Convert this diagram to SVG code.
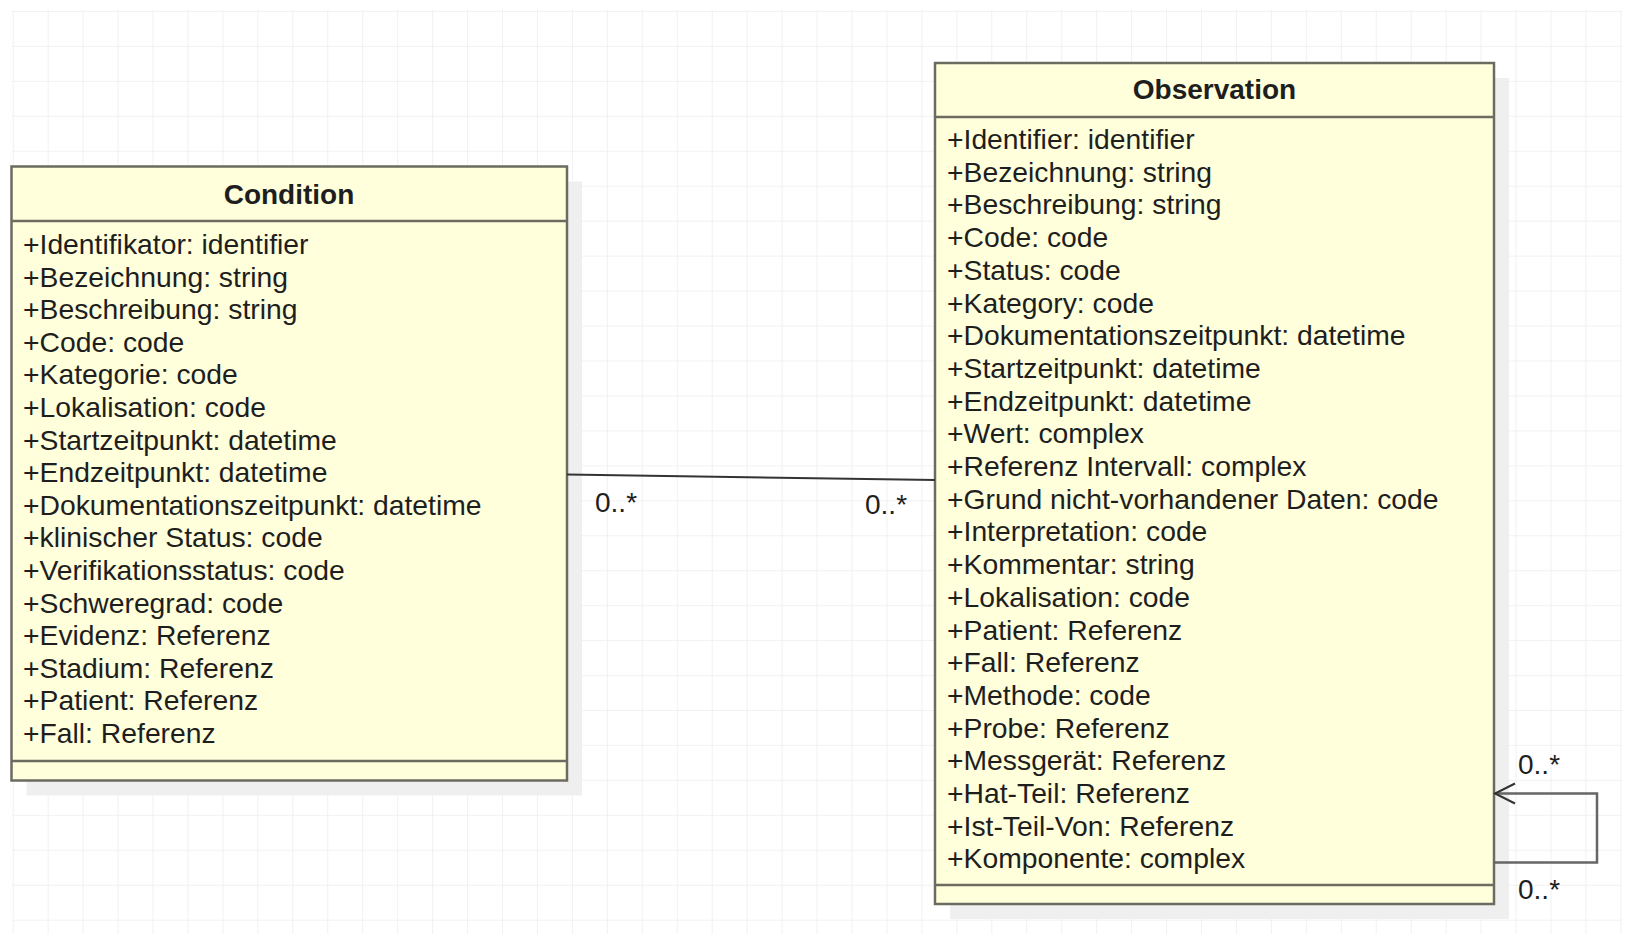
<svg xmlns="http://www.w3.org/2000/svg" width="1632" height="944" viewBox="0 0 1632 944">
<defs>
<pattern id="grid" x="12.7" y="11" width="34.95" height="34.95" patternUnits="userSpaceOnUse">
<path d="M0 0 V34.95 M0 0 H34.95" fill="none" stroke="#eeeeee" stroke-width="1.6"/>
</pattern>
<marker id="open" markerWidth="24" markerHeight="24" refX="21" refY="11" orient="auto" markerUnits="userSpaceOnUse">
<path d="M1 1 L21 11 L1 21" fill="none" stroke="#333" stroke-width="2"/>
</marker>
<style>
.box{fill:#ffffdc;stroke:#6b6b60;stroke-width:2.5}
.shadow{fill:#efefef}
.sep{stroke:#6b6b60;stroke-width:2.5}
.t{font-family:"Liberation Sans",Arial,sans-serif;font-size:28.3px;fill:#1e1e1e}
.h{font-family:"Liberation Sans",Arial,sans-serif;font-size:28px;font-weight:bold;fill:#1e1e1e;text-anchor:middle}
.lbl{font-family:"Liberation Sans",Arial,sans-serif;font-size:28px;fill:#1e1e1e}
.conn{fill:none;stroke:#333;stroke-width:2}
.loop{fill:none;stroke:#666;stroke-width:2.5}
</style>
</defs>
<rect x="12" y="10" width="1610" height="924" fill="url(#grid)"/>

<g id="condition">
<rect class="shadow" x="26.5" y="181.5" width="555.5" height="614"/>
<rect class="box" x="11.5" y="166.5" width="555.5" height="614"/>
<line class="sep" x1="11.5" y1="221" x2="567" y2="221"/>
<line class="sep" x1="11.5" y1="761" x2="567" y2="761"/>
<text class="h" x="289" y="204">Condition</text>
<text class="t" x="23" y="254">+Identifikator: identifier</text>
<text class="t" x="23" y="286.6">+Bezeichnung: string</text>
<text class="t" x="23" y="319.2">+Beschreibung: string</text>
<text class="t" x="23" y="351.8">+Code: code</text>
<text class="t" x="23" y="384.4">+Kategorie: code</text>
<text class="t" x="23" y="417">+Lokalisation: code</text>
<text class="t" x="23" y="449.6">+Startzeitpunkt: datetime</text>
<text class="t" x="23" y="482.2">+Endzeitpunkt: datetime</text>
<text class="t" x="23" y="514.8">+Dokumentationszeitpunkt: datetime</text>
<text class="t" x="23" y="547.4">+klinischer Status: code</text>
<text class="t" x="23" y="580">+Verifikationsstatus: code</text>
<text class="t" x="23" y="612.6">+Schweregrad: code</text>
<text class="t" x="23" y="645.2">+Evidenz: Referenz</text>
<text class="t" x="23" y="677.8">+Stadium: Referenz</text>
<text class="t" x="23" y="710.4">+Patient: Referenz</text>
<text class="t" x="23" y="743">+Fall: Referenz</text>
</g>

<g id="observation">
<rect class="shadow" x="950" y="78" width="559" height="841"/>
<rect class="box" x="935" y="63" width="559" height="841"/>
<line class="sep" x1="935" y1="117" x2="1494" y2="117"/>
<line class="sep" x1="935" y1="885" x2="1494" y2="885"/>
<text class="h" x="1214.5" y="99">Observation</text>
<text class="t" x="947" y="149">+Identifier: identifier</text>
<text class="t" x="947" y="181.7">+Bezeichnung: string</text>
<text class="t" x="947" y="214.4">+Beschreibung: string</text>
<text class="t" x="947" y="247.1">+Code: code</text>
<text class="t" x="947" y="279.8">+Status: code</text>
<text class="t" x="947" y="312.5">+Kategory: code</text>
<text class="t" x="947" y="345.2">+Dokumentationszeitpunkt: datetime</text>
<text class="t" x="947" y="377.9">+Startzeitpunkt: datetime</text>
<text class="t" x="947" y="410.6">+Endzeitpunkt: datetime</text>
<text class="t" x="947" y="443.3">+Wert: complex</text>
<text class="t" x="947" y="476">+Referenz Intervall: complex</text>
<text class="t" x="947" y="508.7">+Grund nicht-vorhandener Daten: code</text>
<text class="t" x="947" y="541.4">+Interpretation: code</text>
<text class="t" x="947" y="574.1">+Kommentar: string</text>
<text class="t" x="947" y="606.8">+Lokalisation: code</text>
<text class="t" x="947" y="639.5">+Patient: Referenz</text>
<text class="t" x="947" y="672.2">+Fall: Referenz</text>
<text class="t" x="947" y="704.9">+Methode: code</text>
<text class="t" x="947" y="737.6">+Probe: Referenz</text>
<text class="t" x="947" y="770.3">+Messgerät: Referenz</text>
<text class="t" x="947" y="803">+Hat-Teil: Referenz</text>
<text class="t" x="947" y="835.7">+Ist-Teil-Von: Referenz</text>
<text class="t" x="947" y="868.4">+Komponente: complex</text>
</g>

<g id="connectors">
<line class="conn" x1="567" y1="474.5" x2="935" y2="480"/>
<text class="lbl" x="595" y="512">0..*</text>
<text class="lbl" x="865" y="514">0..*</text>
<path class="loop" d="M1494 862.5 H1597 V793.5 H1495" marker-end="url(#open)"/>
<text class="lbl" x="1518" y="774">0..*</text>
<text class="lbl" x="1518" y="898.5">0..*</text>
</g>
</svg>
